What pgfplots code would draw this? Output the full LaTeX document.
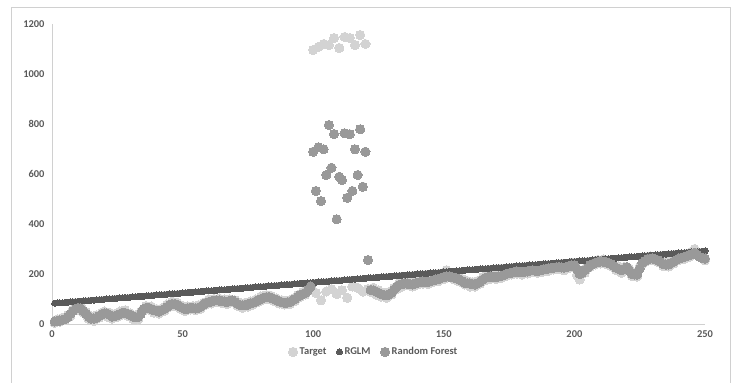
\documentclass[border=0pt]{standalone}
\usepackage{pgfplots}
\pgfplotsset{compat=1.18}
\usepackage{pgfplotstable}
\usepackage{fontspec}
\setmainfont{Carlito}
\definecolor{tgt}{HTML}{D3D3D3}
\definecolor{rglm}{HTML}{5A5A5A}
\definecolor{rf}{HTML}{999999}
\definecolor{axc}{HTML}{D0D0D0}
\definecolor{txt}{HTML}{595959}

\pgfplotstableread{
y
5
18
10
25
15
35
30
58
70
55
72
45
48
20
30
12
35
25
45
50
30
45
22
40
28
50
38
55
32
42
20
35
18
50
52
72
58
70
45
60
42
62
52
78
68
90
72
85
62
72
52
70
58
72
55
75
62
85
78
98
82
100
88
102
84
98
80
98
88
95
72
85
65
85
70
90
78
98
88
110
98
115
100
112
92
102
82
95
78
92
80
100
92
115
108
128
118
140
145
1096
125
1108
95
1120
130
1116
140
1144
120
1104
135
1148
105
1144
150
1116
145
1156
130
1120
140
128
145
118
135
110
125
105
128
118
145
140
165
150
172
155
170
150
172
158
178
162
180
160
182
168
188
172
195
180
215
200
195
178
192
170
180
158
172
150
168
150
172
162
188
175
198
182
198
180
200
185
205
192
210
198
218
202
220
198
218
202
222
208
222
205
225
210
230
212
232
218
238
220
235
215
238
225
245
240
195
178
210
205
232
228
248
238
256
242
258
240
252
232
240
215
230
205
228
218
222
192
205
190
230
238
260
252
270
255
268
248
258
232
246
230
252
242
264
255
275
260
280
268
290
300
285
270
275
255
}\target

\pgfplotstableread{
y
83
84
85
85
86
87
88
89
90
90
91
92
93
94
95
95
96
97
98
99
100
100
101
102
103
104
105
106
106
107
108
109
110
111
111
112
113
114
115
116
116
117
118
119
120
121
121
122
123
124
125
126
127
127
128
129
130
131
132
132
133
134
135
136
137
137
138
139
140
141
142
142
143
144
145
146
147
148
148
149
150
151
152
153
153
154
155
156
157
158
158
159
160
161
162
163
163
164
165
166
167
168
169
169
170
171
172
173
174
174
175
176
177
178
179
179
180
181
182
183
184
184
185
186
187
188
189
190
190
191
192
193
194
195
195
196
197
198
199
200
200
201
202
203
204
205
205
206
207
208
209
210
211
211
212
213
214
215
216
216
217
218
219
220
221
221
222
223
224
225
226
226
227
228
229
230
231
232
232
233
234
235
236
237
237
238
239
240
241
242
242
243
244
245
246
247
247
248
249
250
251
252
253
253
254
255
256
257
258
258
259
260
261
262
263
263
264
265
266
267
268
268
269
270
271
272
273
274
274
275
276
277
278
279
279
280
281
282
283
284
284
285
286
287
288
289
289
290
291
292
}\rglm

\pgfplotstableread{
y
10
12
14
16
20
28
40
52
60
64
62
52
40
30
22
22
25
32
38
42
42
36
30
32
35
40
45
44
40
35
30
27
28
40
60
64
65
60
55
52
50
55
60
68
75
80
80
76
70
64
60
62
65
64
62
65
70
78
85
88
90
93
95
94
92
90
88
91
95
88
80
76
75
76
78
82
85
90
95
100
105
107
108
104
100
95
90
87
85
86
88
94
100
108
115
120
125
135
150
689
532
707
492
699
596
796
625
760
419
589
576
763
505
759
532
699
596
779
549
689
256
136
134
130
125
120
116
115
118
125
138
150
156
160
162
162
160
158
162
165
168
170
169
168
172
175
178
180
184
188
190
190
188
185
182
178
172
165
163
162
160
158
163
170
178
185
188
190
189
188
190
192
196
200
203
205
208
210
209
208
209
210
213
215
213
212
215
218
220
222
224
225
227
228
226
225
228
232
234
235
218
200
205
215
225
235
240
245
248
250
249
248
244
240
232
225
220
215
220
228
214
200
198
198
222
245
252
260
261
262
258
255
248
240
238
238
244
250
256
262
265
268
272
275
280
285
276
268
264
262
}\rf

\begin{document}
\begin{tikzpicture}
\path[use as bounding box] (0,0) rectangle (738bp,383bp);
\draw[axc, line width=0.8bp] (11.5bp,-2bp) -- (11.5bp,376bp) -- (730bp,376bp) -- (730bp,-2bp);
\begin{axis}[
  at={(52bp,59bp)}, anchor=south west,
  scale only axis, width=653bp, height=300bp,
  xmin=0, xmax=250, ymin=0, ymax=1200,
  xtick={0,50,...,250}, ytick={0,200,...,1200},
  axis x line*=bottom, axis y line*=left,
  axis line style={axc, line width=0.8bp, -},
  major tick length=0pt,
  tick label style={font=\fontsize{10.5}{12}\selectfont\bfseries, text=txt},
  /pgf/number format/assume math mode=true,
  /pgf/number format/1000 sep={},
  yticklabel style={xshift=-4bp},
  xticklabel style={yshift=-3bp},
  legend style={at={(0.493,-0.093)}, anchor=center, draw=none, fill=none,
    legend columns=3, font=\fontsize{10.5}{12}\selectfont\bfseries, text=txt,
    /tikz/every even column/.append style={column sep=8bp}},
  legend cell align=left,
  clip=false,
]
\addplot[only marks, color=tgt, mark=*, mark size=4.6bp, mark options={draw=tgt, fill=tgt, line width=0pt}]
  table[x expr=\coordindex+1, y=y]{\target};
\addlegendentry{Target}
\addplot[only marks, color=rglm, mark=*, mark size=3bp, mark options={draw=rglm, fill=rglm, line width=0pt}]
  table[x expr=\coordindex+1, y=y]{\rglm};
\addlegendentry{RGLM}
\addplot[only marks, color=rf, mark=*, mark size=4.6bp, mark options={draw=rf, fill=rf, line width=0pt}]
  table[x expr=\coordindex+1, y=y]{\rf};
\addlegendentry{Random Forest}
\end{axis}
\end{tikzpicture}
\end{document}
